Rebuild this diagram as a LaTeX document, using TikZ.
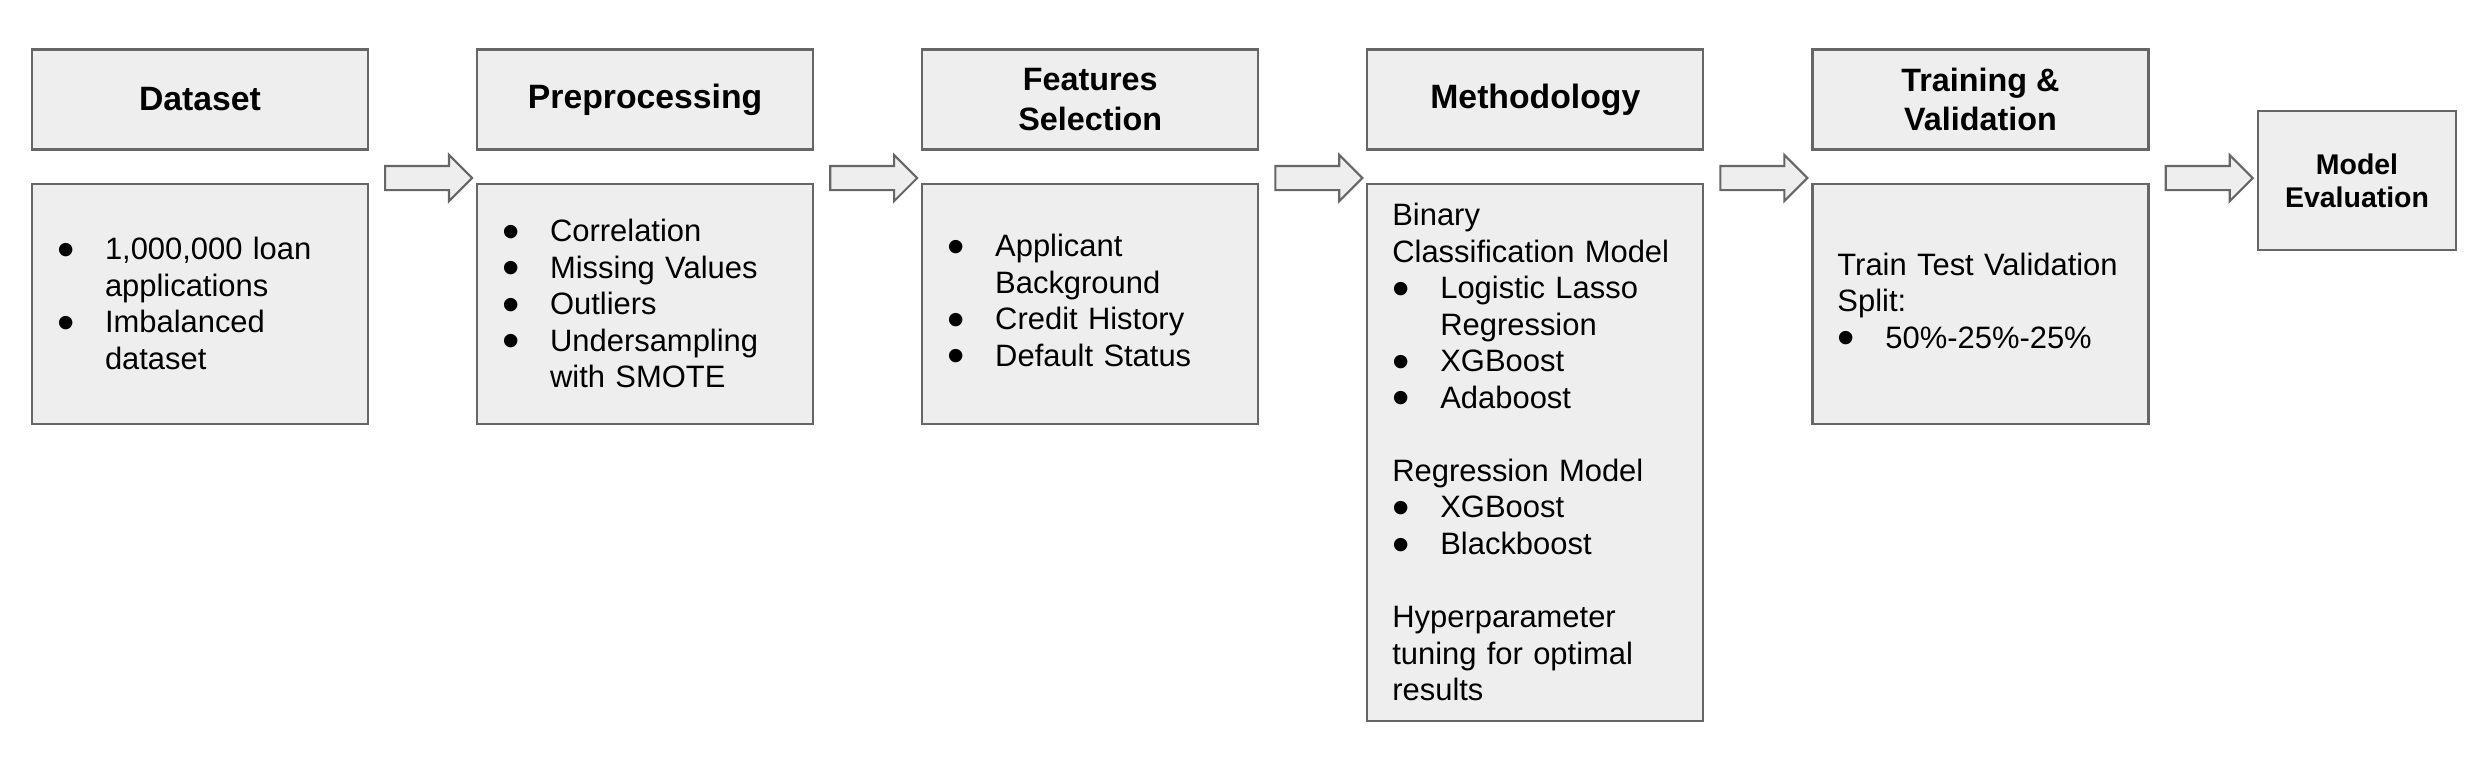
\documentclass[tikz,border=0pt]{standalone}
\usepackage{fontspec}
\setmainfont{Liberation Sans}
\usepackage{xcolor}
\usetikzlibrary{positioning,shapes.arrows,calc}
\definecolor{boxfill}{HTML}{EEEEEE}
\definecolor{boxline}{HTML}{666666}
\newcommand{\bul}{\makebox[0.48cm][l]{\raisebox{-0.21em}{\scalebox{1.6}{\textbullet}}}}
\newcommand{\ind}{\hspace*{0.48cm}}

\begin{document}
\begin{tikzpicture}[every node/.style={inner sep=0pt},
  head/.style={draw=boxline, fill=boxfill, line width=0.6pt, minimum width=3.36cm, minimum height=1.0cm, align=center, font=\fontsize{9.6}{11}\selectfont\bfseries},
  head2/.style={head, font=\fontsize{9.2}{11.2}\selectfont\bfseries},
  body/.style={draw=boxline, fill=boxfill, line width=0.6pt, minimum width=3.36cm, minimum height=2.4cm, text width=2.86cm, inner xsep=0.25cm, align=left, font=\fontsize{8.8}{10.4}\selectfont},
  blk/.style={single arrow, draw=boxline, fill=boxfill, line width=0.6pt, minimum height=0.87cm, inner xsep=0pt, inner ysep=0.11cm, single arrow head extend=0.11cm, single arrow tip angle=90}]
\useasboundingbox (0,0) rectangle (24.88,-7.66);

\node[head] (dsh) at (2.00,-0.995) {Dataset};
\node[head] (pph) [right=1.07cm of dsh] {Preprocessing};
\node[head2] (fsh) [right=1.07cm of pph] {Features\\Selection};
\node[head] (mth) [right=1.07cm of fsh] {Methodology};
\node[head2] (tvh) [right=1.07cm of mth] {Training \&\\Validation};

\node[body] (dsb) [below=0.32cm of dsh] {\bul 1,000,000 loan\\\ind applications\\\bul Imbalanced\\\ind dataset};
\node[body] (ppb) [below=0.32cm of pph] {\bul Correlation\\\bul Missing Values\\\bul Outliers\\\bul Undersampling\\\ind with SMOTE};
\node[body] (fsb) [below=0.32cm of fsh] {\bul Applicant\\\ind Background\\\bul Credit History\\\bul Default Status};
\node[body, minimum height=5.37cm] (mtb) [below=0.32cm of mth] {Binary\\Classification Model\\\bul Logistic Lasso\\\ind Regression\\\bul XGBoost\\\bul Adaboost\\[10.4pt]Regression Model\\\bul XGBoost\\\bul Blackboost\\[10.4pt]Hyperparameter\\tuning for optimal\\results};
\node[body] (tvb) [below=0.32cm of tvh] {Train Test Validation\\Split:\\\bul 50\%-25\%-25\%};

\node[head, minimum width=1.98cm, minimum height=1.39cm, font=\fontsize{8.1}{9.4}\selectfont\bfseries] (me) at (23.57,-1.805) {Model\\Evaluation};

\node[blk] (a1) at ($(dsb.north east)!0.5!(ppb.north west)+(0,0.045)$) {};
\node[blk] (a2) at ($(ppb.north east)!0.5!(fsb.north west)+(0,0.045)$) {};
\node[blk] (a3) at ($(fsb.north east)!0.5!(mtb.north west)+(0,0.045)$) {};
\node[blk] (a4) at ($(mtb.north east)!0.5!(tvb.north west)+(0,0.045)$) {};
\node[blk] (a5) at ($(tvb.north east)!0.5!(me.west |- tvb.north)+(0,0.045)$) {};
\end{tikzpicture}
\end{document}
